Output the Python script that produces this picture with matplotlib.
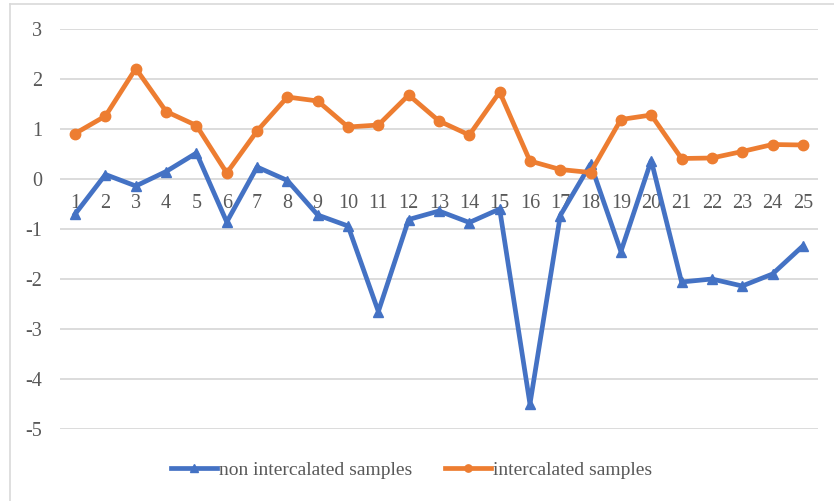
import matplotlib
matplotlib.use("Agg")
import matplotlib.pyplot as plt
from matplotlib.lines import Line2D

# sample index and measured values
samples = list(range(1, 26))
non_intercalated = [-0.70, 0.09, -0.14, 0.15, 0.52, -0.86, 0.24, -0.03, -0.72, -0.94,
                    -2.65, -0.81, -0.64, -0.87, -0.60, -4.50, -0.73, 0.30, -1.45, 0.37,
                    -2.06, -2.00, -2.14, -1.90, -1.34]
intercalated = [0.91, 1.26, 2.21, 1.35, 1.07, 0.12, 0.96, 1.64, 1.56, 1.04,
                1.08, 1.68, 1.16, 0.88, 1.74, 0.36, 0.19, 0.13, 1.19, 1.28,
                0.41, 0.42, 0.55, 0.69, 0.68]
y_ticks = [3, 2, 1, 0, -1, -2, -3, -4, -5]

blue = "#4472C4"
orange = "#ED7D31"
grey_text = "#595959"
grid_col = "#D9D9D9"

plt.rcParams["font.family"] = ["Liberation Serif", "DejaVu Serif"]

fig = plt.figure(figsize=(8.34, 5.01), dpi=100)
W, H = 834, 501
ax = fig.add_axes([60 / W, 1 - 429 / H, (818 - 60) / W, 400 / H])

# chart frame (runs off the right and bottom edge)
fig.add_artist(Line2D([10 / W, 10 / W], [1 - 4 / H, -0.1], transform=fig.transFigure,
                      color=grid_col, lw=1.2))
fig.add_artist(Line2D([10 / W, 1.1], [1 - 4 / H, 1 - 4 / H], transform=fig.transFigure,
                      color=grid_col, lw=1.2))

ax.plot(samples, non_intercalated, color=blue, lw=3.4, marker="^", markersize=7.5,
        label="non intercalated samples", solid_joinstyle="round", zorder=3)
ax.plot(samples, intercalated, color=orange, lw=3.4, marker="o", markersize=7.5,
        label="intercalated samples", solid_joinstyle="round", zorder=3)

ax.set_xlim(0.5, 25.5)
ax.set_ylim(-5, 3)

# category labels sit just under the zero line
ax.spines["bottom"].set_position(("data", 0))
ax.set_xticks(samples)
ax.set_xticklabels([str(s) for s in samples])
ax.tick_params(axis="x", length=0, pad=11, labelsize=14.5, labelcolor=grey_text)

ax.set_yticks(y_ticks)
ax.set_yticklabels([str(v) for v in y_ticks])
ax.tick_params(axis="y", length=0, pad=13, labelsize=14.5, labelcolor=grey_text)
ax.yaxis.grid(True, color=grid_col, lw=1.3)
ax.set_axisbelow(True)
for s in ax.spines.values():
    s.set_visible(False)

ax.legend(loc="center", bbox_to_anchor=(0.4934, 1 - 470 / H), bbox_transform=fig.transFigure,
          ncol=2, frameon=False, fontsize=14, labelcolor=grey_text, handlelength=2.37,
          handletextpad=0.08, columnspacing=1.7, markerscale=0.7)

fig.savefig("out.png", dpi=100)
